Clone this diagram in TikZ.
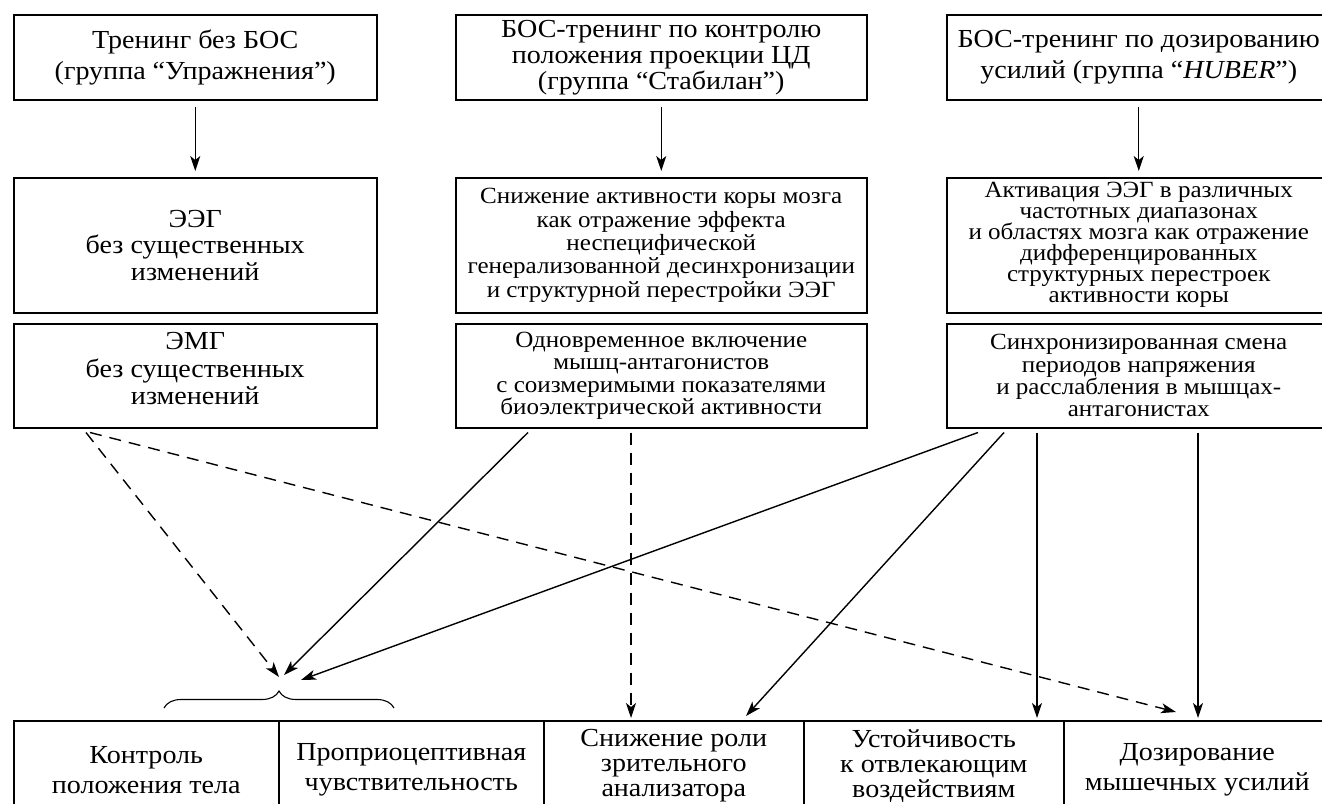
\documentclass[tikz,border=0pt]{standalone}
\usepackage{fontspec}
\setmainfont[FakeStretch=1.08]{Liberation Serif}
\usepackage{tikz}
\usetikzlibrary{arrows.meta, decorations.pathreplacing}

\newcommand{\tightlines}{\setlength{\lineskiplimit}{-50pt}}

\begin{document}
\begin{tikzpicture}[x=1pt, y=-1pt,
    box/.style={draw, line width=1.5pt, align=center, inner sep=0pt, anchor=north west},
    big/.style={font={\fontsize{26}{#1}\selectfont\tightlines}},
    big/.default=27,
    small/.style={font={\fontsize{23.2}{#1}\selectfont\tightlines}},
    small/.default=22.3,
    arr/.style={line width=1.4pt, -{Stealth[length=15pt, width=10pt, inset=4pt]}},
    dsh/.style={dash pattern=on 12pt off 8pt}]
  \clip (0,0) rectangle (1322,803);

  % training groups
  \node[box, big=31, minimum width=363pt, minimum height=85pt] (tr1) at (13,14)
    {Тренинг без БОС\\(группа “Упражнения”)};
  \node[box, big=26, minimum width=411pt, minimum height=85pt] (tr2) at (455,14)
    {БОС-тренинг по контролю\\положения проекции ЦД\\(группа “Стабилан”)};
  \node[box, big=31, minimum width=384pt, minimum height=85pt] (tr3) at (946,14)
    {БОС-тренинг по дозированию\\усилий (группа “\textit{HUBER}”)};

  % EEG
  \node[box, big=26.5, minimum width=363pt, minimum height=135pt] (eeg1) at (13,177)
    {ЭЭГ\\без существенных\\изменений};
  \node[box, small=23.3, minimum width=411pt, minimum height=135pt] (eeg2) at (455,177)
    {Снижение активности коры мозга\\как отражение эффекта\\неспецифической\\генерализованной десинхронизации\\и структурной перестройки ЭЭГ};
  \node[box, small=21, minimum width=384pt, minimum height=135pt] (eeg3) at (946,177)
    {Активация ЭЭГ в различных\\частотных диапазонах\\и областях мозга как отражение\\дифференцированных\\структурных перестроек\\активности коры};

  % EMG
  \node[box, big=27.5, text depth=14pt, minimum width=363pt, minimum height=104pt] (emg1) at (13,323)
    {ЭМГ\\без существенных\\изменений};
  \node[box, small, minimum width=411pt, minimum height=104pt] (emg2) at (455,323)
    {Одновременное включение\\мышц-антагонистов\\с соизмеримыми показателями\\биоэлектрической активности};
  \node[box, small, minimum width=384pt, minimum height=104pt] (emg3) at (946,323)
    {Синхронизированная смена\\периодов напряжения\\и расслабления в мышцах-\\антагонистах};

  % results
  \node[box, big=30, minimum width=265pt, minimum height=98pt] (res1) at (13,720)
    {Контроль\\положения тела};
  \node[box, big=30, minimum width=265pt, minimum height=98pt] (res2) at (278,720)
    {Проприоцептивная\\чувствительность};
  \node[box, big=25, minimum width=260pt, minimum height=90pt] (res3) at (543,720)
    {Снижение роли\\зрительного\\анализатора};
  \node[box, big=25, minimum width=260pt, minimum height=90pt] (res4) at (803,720)
    {Устойчивость\\к отвлекающим\\воздействиям};
  \node[box, big=30, minimum width=267pt, minimum height=98pt] (res5) at (1063,720)
    {Дозирование\\мышечных усилий};

  \draw[line width=1.1pt, decorate, decoration={brace, amplitude=17pt, aspect=0.5}] (164,708) -- (394,708);
  \coordinate (tip) at (279,690);

  \draw[arr, shorten >=6pt, shorten <=6pt] (tr1) -- (eeg1);
  \draw[arr, shorten >=6pt, shorten <=6pt] (tr2) -- (eeg2);
  \draw[arr, shorten >=6pt, shorten <=6pt] (tr3) -- (eeg3);

  \draw[arr, dsh] ([xshift=73pt,yshift=-4pt]emg1.south west) -- ([yshift=13pt]tip);
  \draw[arr, dsh] ([xshift=77pt,yshift=-4pt]emg1.south west) -- ([xshift=113pt,yshift=8pt]res5.north west);
  \draw[arr] ([xshift=73pt,yshift=-4pt]emg2.south west) -- ([xshift=5pt,yshift=15pt]tip);
  \draw[arr, dsh] ([xshift=176pt,yshift=-4pt]emg2.south west) -- ([xshift=88pt,yshift=2pt]res3.north west);
  \draw[arr] ([xshift=32pt,yshift=-4pt]emg3.south west) -- ([xshift=22pt,yshift=10pt]tip);
  \draw[arr] ([xshift=58pt,yshift=-4pt]emg3.south west) -- ([xshift=203pt,yshift=4pt]res3.north west);
  \draw[arr] ([xshift=91pt,yshift=-4pt]emg3.south west) -- ([xshift=234pt,yshift=2pt]res4.north west);
  \draw[arr] ([xshift=252pt,yshift=-4pt]emg3.south west) -- ([xshift=135pt,yshift=2pt]res5.north west);
\end{tikzpicture}
\end{document}
